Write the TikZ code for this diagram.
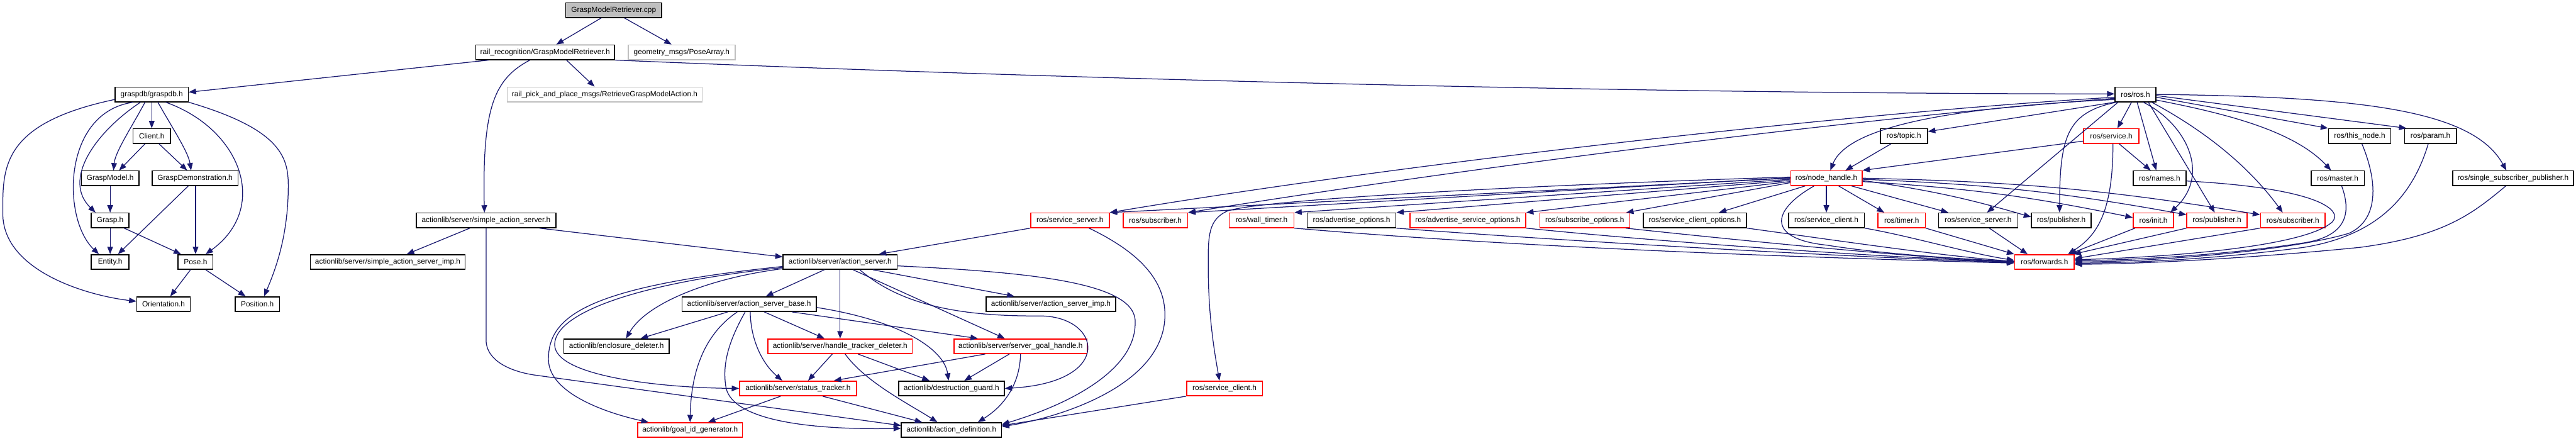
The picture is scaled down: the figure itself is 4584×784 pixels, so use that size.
\documentclass[tikz,border=0pt]{standalone}
\usepackage{fontspec}
\setmainfont{Liberation Sans}
\usetikzlibrary{arrows.meta}
\definecolor{edgec}{HTML}{191970}
\definecolor{grayb}{HTML}{BFBFBF}
\tikzset{
 nb/.style={draw=black, line width=1.8pt, fill=white, rectangle, minimum height=26pt, inner sep=0pt, font=\fontsize{13.3}{15}\selectfont},
 nr/.style={nb, draw=red},
 ng/.style={nb, draw=grayb},
 nroot/.style={nb, fill=grayb},
 e/.style={draw=edgec, line width=1.4pt, -{Triangle[length=13pt,width=10pt]}},
}
\begin{document}
\begin{tikzpicture}[x=1pt,y=-1pt]
\useasboundingbox (0,0) rectangle (4584,784);
\fill[white] (0,0) rectangle (4584,784);
% rank 0-2
\node[nroot, minimum width=171pt] (cpp) at (1092,18) {GraspModelRetriever.cpp};
\node[nb, minimum width=247pt] (rail) at (970,93) {rail\_recognition/GraspModelRetriever.h};
\node[ng, minimum width=190pt] (geom) at (1213,93) {geometry\_msgs/PoseArray.h};
\node[nb, minimum width=130pt] (graspdb) at (270,168) {graspdb/graspdb.h};
\node[ng, minimum width=347pt] (retrieve) at (1076,168) {rail\_pick\_and\_place\_msgs/RetrieveGraspModelAction.h};
\node[nb, minimum width=73pt] (rosh) at (3800,168) {ros/ros.h};
% rank 3
\node[nb, minimum width=67pt] (client) at (270,242) {Client.h};
\node[nb, minimum width=84pt] (topic) at (3388,242) {ros/topic.h};
\node[nr, minimum width=98pt] (service) at (3757,242) {ros/service.h};
\node[nb, minimum width=111pt] (thisnode) at (4199,242) {ros/this\_node.h};
\node[nb, minimum width=92pt] (param) at (4325,242) {ros/param.h};
% rank 4
\node[nb, minimum width=102pt] (graspmodel) at (196,317) {GraspModel.h};
\node[nb, minimum width=153pt] (graspdemo) at (347,317) {GraspDemonstration.h};
\node[nr, minimum width=127pt] (nodehandle) at (3250,317) {ros/node\_handle.h};
\node[nb, minimum width=94pt] (names) at (3843,317) {ros/names.h};
\node[nb, minimum width=95pt] (master) at (4160,317) {ros/master.h};
\node[nb, minimum width=215pt] (singlesub) at (4472,317) {ros/single\_subscriber\_publisher.h};
% rank 5
\node[nb, minimum width=67pt] (grasp) at (196,392) {Grasp.h};
\node[nb, minimum width=248pt] (simpleas) at (865,392) {actionlib/server/simple\_action\_server.h};
\node[nr, minimum width=140pt] (servsrvred) at (1904,392) {ros/service\_server.h};
\node[nr, minimum width=115pt] (subred1) at (2056,392) {ros/subscriber.h};
\node[nr, minimum width=115pt] (walltimer) at (2245,392) {ros/wall\_timer.h};
\node[nb, minimum width=158pt] (advopt) at (2405,392) {ros/advertise\_options.h};
\node[nr, minimum width=206pt] (advsrvopt) at (2612,392) {ros/advertise\_service\_options.h};
\node[nr, minimum width=160pt] (subopt) at (2820,392) {ros/subscribe\_options.h};
\node[nb, minimum width=184pt] (srvcliopt) at (3016,392) {ros/service\_client\_options.h};
\node[nb, minimum width=135pt] (srvcli) at (3250,392) {ros/service\_client.h};
\node[nr, minimum width=84pt] (timer) at (3384,392) {ros/timer.h};
\node[nb, minimum width=141pt] (srvsrv) at (3520,392) {ros/service\_server.h};
\node[nb, minimum width=106pt] (pub) at (3668,392) {ros/publisher.h};
\node[nr, minimum width=72pt] (init) at (3832,392) {ros/init.h};
\node[nr, minimum width=107pt] (pubred) at (3945,392) {ros/publisher.h};
\node[nr, minimum width=115pt] (subred2) at (4080,392) {ros/subscriber.h};
% rank 6
\node[nb, minimum width=67pt] (entity) at (196,466) {Entity.h};
\node[nb, minimum width=62pt] (pose) at (348,466) {Pose.h};
\node[nb, minimum width=275pt] (simpleimp) at (690,466) {actionlib/server/simple\_action\_server\_imp.h};
\node[nb, minimum width=203pt] (actionserver) at (1495,466) {actionlib/server/action\_server.h};
\node[nr, minimum width=106pt] (forwards) at (3638,466) {ros/forwards.h};
% rank 7
\node[nb, minimum width=95pt] (orientation) at (291,541) {Orientation.h};
\node[nb, minimum width=79pt] (position) at (458,541) {Position.h};
\node[nb, minimum width=239pt] (asbase) at (1333,541) {actionlib/server/action\_server\_base.h};
\node[nb, minimum width=231pt] (asimp) at (1870,541) {actionlib/server/action\_server\_imp.h};
% rank 8
\node[nb, minimum width=187pt] (enclosure) at (1097,616) {actionlib/enclosure\_deleter.h};
\node[nr, minimum width=257pt] (htdeleter) at (1495,616) {actionlib/server/handle\_tracker\_deleter.h};
\node[nr, minimum width=237pt] (sgh) at (1816,616) {actionlib/server/server\_goal\_handle.h};
% rank 9
\node[nr, minimum width=208pt] (status) at (1420,691) {actionlib/server/status\_tracker.h};
\node[nb, minimum width=188pt] (dguard) at (1693,691) {actionlib/destruction\_guard.h};
\node[nr, minimum width=135pt] (srvclired) at (2179,691) {ros/service\_client.h};
% rank 10
\node[nr, minimum width=186pt] (goalid) at (1228,765) {actionlib/goal\_id\_generator.h};
\node[nb, minimum width=178pt] (actdef) at (1693,765) {actionlib/action\_definition.h};

% ---------- edges ----------
\draw[e] ([xshift=-22pt]cpp.south) -- ([xshift=20pt]rail.north);
\draw[e] ([xshift=19pt]cpp.south) -- ([xshift=-18pt]geom.north);
\draw[e] ([xshift=-100pt]rail.south) -- ([yshift=4pt]graspdb.east);
\draw[e] ([xshift=-27pt]rail.south) .. controls (880,140) and (858,190) .. ([xshift=-3pt]simpleas.north);
\draw[e] ([xshift=38pt]rail.south) -- ([xshift=-18pt]retrieve.north);
\draw[e] (rail.south east) .. controls (2000,145) and (3000,167) .. ([yshift=1pt]rosh.west);
% graspdb
\draw[e] (graspdb.south) -- (client.north);
\draw[e] ([xshift=-12pt]graspdb.south) .. controls (235,225) and (205,270) .. ([xshift=6pt]graspmodel.north);
\draw[e] ([xshift=11pt]graspdb.south) .. controls (305,225) and (335,270) .. ([xshift=-7pt]graspdemo.north);
\draw[e] ([xshift=-20pt]graspdb.south) .. controls (170,235) and (110,320) .. ([xshift=-26pt]grasp.north);
\draw[e] ([xshift=-33pt]graspdb.south) .. controls (110,200) and (110,390) .. ([xshift=-20pt]entity.north);
\draw[e] ([xshift=25pt]graspdb.south) .. controls (430,230) and (480,370) .. ([xshift=18pt]pose.north);
\draw[e] ([yshift=-9pt]graspdb.west) .. controls (0,220) and (5,300) .. (5,380) .. controls (5,480) and (150,525) .. ([yshift=5pt]orientation.west);
\draw[e] (graspdb.south east) .. controls (500,230) and (513,280) .. (513,330) .. controls (513,420) and (490,480) .. ([xshift=12pt]position.north);
\draw[e] ([xshift=-12pt]client.south) -- ([xshift=16pt]graspmodel.north);
\draw[e] ([xshift=13pt]client.south) -- ([xshift=-14pt]graspdemo.north);
\draw[e] (graspmodel.south) -- (grasp.north);
\draw[e] ([xshift=-12pt]graspdemo.south) -- ([xshift=14pt]entity.north);
\draw[e] ([xshift=1pt]graspdemo.south) -- (pose.north);
\draw[e] (grasp.south) -- (entity.north);
\draw[e] ([xshift=25pt]grasp.south) -- ([xshift=-26pt]pose.north);
\draw[e] ([xshift=-9pt]pose.south) -- ([xshift=12pt]orientation.north);
\draw[e] ([xshift=18pt]pose.south) -- ([xshift=-21pt]position.north);
% simple action server
\draw[e] ([xshift=-29pt]simpleas.south) -- ([xshift=34pt]simpleimp.north);
\draw[e] ([xshift=95pt]simpleas.south) -- ([yshift=9pt]actionserver.west);
\draw[e] (simpleas.south) -- (865,605) .. controls (865,640) and (905,660) .. (950,667) -- ([yshift=8pt]actdef.west);
% action server
\draw[e] ([xshift=-28pt]actionserver.south) -- ([xshift=30pt]asbase.north);
\draw[e] (actionserver.south) -- (htdeleter.north);
\draw[e] ([xshift=23pt]actionserver.south) -- ([xshift=-28pt]sgh.north);
\draw[e] ([xshift=58pt]actionserver.south) -- ([xshift=-65pt]asimp.north);
\draw[e] ([yshift=-12pt]actionserver.west) .. controls (1260,495) and (1150,540) .. ([xshift=17pt]enclosure.north);
\draw[e] ([yshift=-10pt]actionserver.west) .. controls (1120,505) and (987,560) .. (987,613) .. controls (987,670) and (1180,690) .. (status.west);
\draw[e] ([yshift=-8pt]actionserver.west) .. controls (1050,510) and (975,560) .. (976,640) .. controls (977,700) and (1080,735) .. ([xshift=-74pt]goalid.north);
\draw[e] ([yshift=-7pt]actionserver.east) .. controls (1850,485) and (2025,505) .. (2020,575) .. controls (2020,660) and (1900,720) .. ([yshift=10pt]actdef.east);
\draw[e] ([xshift=35pt]actionserver.south) .. controls (1600,540) and (1700,563) .. (1850,562) .. controls (1960,562) and (1985,680) .. (dguard.east);
% action server base
\draw[e] ([xshift=-38pt]asbase.south) -- ([xshift=43pt]enclosure.north);
\draw[e] ([xshift=-21pt]asbase.south) .. controls (1260,590) and (1230,650) .. (goalid.north);
\draw[e] ([xshift=-7pt]asbase.south) .. controls (1295,610) and (1285,650) .. (1292,690) .. controls (1305,750) and (1450,765) .. ([yshift=3pt]actdef.west);
\draw[e] ([xshift=2pt]asbase.south) .. controls (1336,610) and (1360,650) .. ([xshift=-28pt]status.north);
\draw[e] ([xshift=27pt]asbase.south) -- ([xshift=-28pt]htdeleter.north);
\draw[e] ([xshift=76pt]asbase.south) -- ([xshift=-76pt]sgh.north);
\draw[e] ([yshift=-6pt]asbase.east) .. controls (1600,570) and (1680,620) .. ([xshift=-5pt]dguard.north);
% lower actionlib
\draw[e] ([xshift=-14pt]htdeleter.south) -- ([xshift=18pt]status.north);
\draw[e] ([xshift=9pt]htdeleter.south) .. controls (1540,680) and (1620,720) .. ([xshift=-25pt]actdef.north);
\draw[e] ([xshift=32pt]htdeleter.south) -- ([xshift=-39pt]dguard.north);
\draw[e] ([xshift=-63pt]sgh.south) -- ([xshift=64pt]status.north);
\draw[e] ([xshift=-20pt]sgh.south) -- ([xshift=23pt]dguard.north);
\draw[e] (sgh.south) .. controls (1815,680) and (1790,720) .. ([xshift=47pt]actdef.north);
\draw[e] ([xshift=-31pt]status.south) -- ([xshift=32pt]goalid.north);
\draw[e] ([xshift=44pt]status.south) -- ([xshift=-52pt]actdef.north);
\draw[e] (servsrvred.south west) -- ([xshift=69pt]actionserver.north);
\draw[e] ([xshift=34pt]servsrvred.south) .. controls (2030,450) and (2073,500) .. (2073,560) .. controls (2073,680) and (1900,740) .. ([yshift=6pt]actdef.east);
\draw[e] (srvclired.south west) -- ([yshift=8pt]actdef.east);
% ros.h
\draw[e] ([yshift=-5pt]rosh.west) .. controls (3300,200) and (2500,290) .. (servsrvred.north east);
\draw[e] ([yshift=-7pt]rosh.west) .. controls (3300,210) and (2600,300) .. (subred1.north east);
\draw[e] ([yshift=-9pt]rosh.west) .. controls (3500,190) and (3290,220) .. ([xshift=7pt]nodehandle.north);
\draw[e] (rosh.south west) -- ([yshift=8pt]topic.east);
\draw[e] ([xshift=-31pt]rosh.south) -- ([xshift=16pt]srvsrv.north);
\draw[e] ([xshift=-34pt]rosh.south) .. controls (3680,200) and (3665,240) .. ([xshift=-3pt]pub.north);
\draw[e] ([xshift=-7pt]rosh.south) -- ([xshift=11pt]service.north);
\draw[e] ([xshift=3pt]rosh.south) -- ([xshift=-6pt]names.north);
\draw[e] ([xshift=14pt]rosh.south) .. controls (3890,220) and (3935,310) .. ([xshift=30pt]init.north);
\draw[e] ([xshift=23pt]rosh.south) -- ([xshift=-4pt]pubred.north);
\draw[e] ([xshift=29pt]rosh.south) .. controls (3900,220) and (3990,280) .. ([xshift=-18pt]subred2.north);
\draw[e] ([yshift=-5pt]rosh.east) -- (thisnode.north west);
\draw[e] ([yshift=-2pt]rosh.east) -- ([xshift=4pt]param.north west);
\draw[e] (rosh.east) .. controls (4200,172) and (4400,195) .. ([xshift=-12pt]singlesub.north);
\draw[e] ([yshift=-10pt]rosh.east) .. controls (3950,200) and (4080,230) .. ([xshift=-12pt]master.north);
% topic / service
\draw[e] ([xshift=-23pt]topic.south) -- ([xshift=34pt]nodehandle.north);
\draw[e] ([yshift=-9pt]service.west) -- (nodehandle.north east);
\draw[e] ([xshift=14pt]service.south) -- ([xshift=-16pt]names.north);
\draw[e] ([xshift=3pt]service.south) .. controls (3760,380) and (3730,420) .. ([xshift=42pt]forwards.north);
% into forwards from the right
\draw[e] ([yshift=-5pt]names.east) .. controls (4130,335) and (4170,375) .. (4150,395) .. controls (4100,440) and (3850,458) .. ([yshift=4pt]forwards.east);
\draw[e] ([xshift=7pt]master.south) .. controls (4185,380) and (4175,420) .. (4100,432) .. controls (3950,455) and (3800,462) .. ([yshift=2pt]forwards.east);
\draw[e] ([xshift=4pt]thisnode.south) .. controls (4230,320) and (4235,390) .. (4180,415) .. controls (4080,445) and (3850,465) .. (forwards.east);
\draw[e] ([xshift=-4pt]param.south) .. controls (4290,360) and (4220,420) .. (4100,440) .. controls (3950,460) and (3800,468) .. ([yshift=-2pt]forwards.east);
\draw[e] ([xshift=-13pt]singlesub.south) .. controls (4400,380) and (4350,420) .. (4200,440) .. controls (4000,460) and (3800,470) .. ([yshift=-4pt]forwards.east);
\draw[e] ([xshift=4pt]init.south west) -- ([xshift=-10pt]forwards.north east);
\draw[e] (pubred.south west) -- ([xshift=-2pt]forwards.north east);
\draw[e] (subred2.south west) -- ([yshift=6pt]forwards.east);
\draw[e] ([xshift=20pt]srvsrv.south) -- ([xshift=-30pt]forwards.north);
% node_handle
\draw[e] ([xshift=-22pt]nodehandle.south) .. controls (3150,375) and (3145,425) .. (3250,436) .. controls (3350,452) and (3480,460) .. ([yshift=1pt]forwards.west);
\draw[e] (nodehandle.south) -- (srvcli.north);
\draw[e] ([xshift=22pt]nodehandle.south) -- ([xshift=-31pt]timer.north);
\draw[e] ([xshift=45pt]nodehandle.south) -- ([xshift=-53pt]srvsrv.north);
\draw[e] ([xshift=-38pt]nodehandle.south) -- ([xshift=43pt]srvcliopt.north);
\draw[e] ([yshift=-8pt]nodehandle.west) -- ([xshift=-7pt]subopt.north east);
\draw[e] ([yshift=-6pt]nodehandle.west) -- (advsrvopt.north east);
\draw[e] ([yshift=-4pt]nodehandle.west) -- (advopt.north east);
\draw[e] ([yshift=-2pt]nodehandle.west) -- (walltimer.north east);
\draw[e] ([yshift=2pt]nodehandle.west) .. controls (2700,330) and (2250,355) .. (2185,375) .. controls (2150,390) and (2150,420) .. (2150,470) .. controls (2150,560) and (2160,620) .. ([xshift=-9pt]srvclired.north);
\draw[e] (nodehandle.west) -- (servsrvred.north east);
\draw[e] ([yshift=1pt]nodehandle.west) -- (subred1.north east);
\draw[e] ([yshift=-4pt]nodehandle.east) to[bend left=4] ([yshift=6pt]pub.west);
\draw[e] ([yshift=-6pt]nodehandle.east) to[bend left=4] ([yshift=5pt]init.west);
\draw[e] ([yshift=-2pt]nodehandle.east) to[bend left=4] ([yshift=10pt]pubred.west);
\draw[e] (nodehandle.east) to[bend left=4] ([yshift=10pt]subred2.west);
% rank 5 -> forwards
\draw[e] (walltimer.south east) .. controls (2700,440) and (3200,458) .. ([yshift=-2pt]forwards.west);
\draw[e] (advopt.south east) .. controls (2800,430) and (3300,458) .. ([yshift=-1pt]forwards.west);
\draw[e] (advsrvopt.south east) .. controls (2950,430) and (3350,458) .. (forwards.west);
\draw[e] ([xshift=73pt]subopt.south) .. controls (3100,428) and (3400,458) .. (forwards.west);
\draw[e] (srvcliopt.south east) .. controls (3250,425) and (3450,455) .. ([yshift=1pt]forwards.west);
\draw[e] (srvcli.south east) .. controls (3400,420) and (3500,450) .. ([yshift=3pt]forwards.west);
\draw[e] (timer.south east) -- (forwards.north west);
\end{tikzpicture}
\end{document}
